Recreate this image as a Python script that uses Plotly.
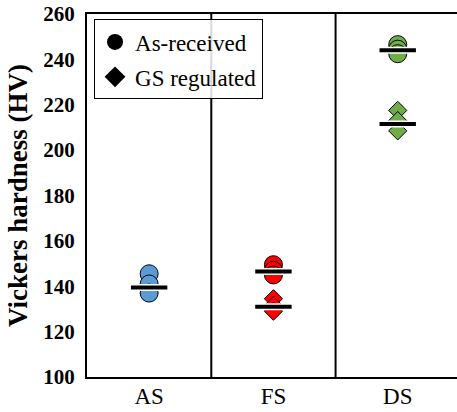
import plotly.graph_objects as go

categories = ["AS", "FS", "DS"]
colors = ["#5B9BD5", "#FF0000", "#70AD47"]

# individual hardness readings (HV)
as_received = {
    "AS": [145.5, 141.0, 137.0],
    "FS": [149.5, 147.0, 145.0],
    "DS": [246.5, 244.5, 242.5],
}
gs_regulated = {
    "AS": [],
    "FS": [134.5, 131.5, 129.0],
    "DS": [217.5, 213.0, 208.5],
}
# mean values shown as black bars
mean_as_received = [139.5, 146.5, 244.0]
mean_gs_regulated = [None, 131.0, 211.5]

y_ticks = [100, 120, 140, 160, 180, 200, 220, 240, 260]

FONT = "Liberation Serif, Times New Roman, serif"

fig = go.Figure()

for i, cat in enumerate(categories):
    vals = as_received[cat]
    if vals:
        fig.add_trace(go.Scatter(
            x=[i] * len(vals), y=vals, mode="markers", showlegend=False,
            marker=dict(symbol="circle", size=18, color=colors[i],
                        line=dict(color="black", width=1)),
        ))
    vals = gs_regulated[cat]
    if vals:
        fig.add_trace(go.Scatter(
            x=[i] * len(vals), y=vals, mode="markers", showlegend=False,
            marker=dict(symbol="diamond", size=14, color=colors[i],
                        line=dict(color="black", width=1)),
        ))

# mean bars (white halo + black bar)
for means in (mean_as_received, mean_gs_regulated):
    xs = [i for i, m in enumerate(means) if m is not None]
    ys = [m for m in means if m is not None]
    fig.add_trace(go.Scatter(
        x=xs, y=ys, mode="markers", showlegend=False, hoverinfo="skip",
        marker=dict(symbol="line-ew", size=27, color="white",
                    line=dict(color="white", width=7)),
    ))
    fig.add_trace(go.Scatter(
        x=xs, y=ys, mode="markers", showlegend=False,
        marker=dict(symbol="line-ew", size=26, color="black",
                    line=dict(color="black", width=4)),
    ))

# legend entries
fig.add_trace(go.Scatter(
    x=[None], y=[None], mode="markers", name="As-received", legendgroup="a",
    marker=dict(symbol="circle", size=18, color="black"),
))
fig.add_trace(go.Scatter(
    x=[None], y=[None], mode="markers", name="GS regulated", legendgroup="b",
    marker=dict(symbol="diamond", size=16, color="black"),
))

# category dividers
for xv in (0.5, 1.5):
    fig.add_shape(type="line", xref="x", yref="paper", x0=xv, x1=xv, y0=0, y1=1,
                  line=dict(color="black", width=2), layer="below")

fig.update_layout(
    width=457, height=412,
    margin=dict(l=87, r=0, t=14, b=35),
    plot_bgcolor="white", paper_bgcolor="white",
    font=dict(family=FONT, color="black"),
    legend=dict(
        x=0.019, y=0.985, xanchor="left", yanchor="top",
        bgcolor="rgba(255,255,255,0.85)", bordercolor="black", borderwidth=1,
        font=dict(size=23, family=FONT, color="black"),
        traceorder="grouped", tracegroupgap=2,
    ),
    xaxis=dict(
        range=[-0.5, 2.477], tickvals=[0, 1, 2], ticktext=categories,
        showline=True, linecolor="black", linewidth=2, mirror=True,
        showgrid=False, zeroline=False, ticks="", ticklabelstandoff=-3,
        tickfont=dict(size=23, family=FONT, color="black"),
    ),
    yaxis=dict(
        range=[100, 260], tickvals=y_ticks,
        ticktext=[f"<b>{v}</b>" for v in y_ticks],
        showline=True, linecolor="black", linewidth=2, mirror=False,
        showgrid=False, zeroline=False, ticks="", ticklabelstandoff=6,
        tickfont=dict(size=21, family=FONT, color="black"),
        title=dict(text="<b>Vickers hardness (HV)</b>", standoff=8,
                   font=dict(size=27, family=FONT, color="black")),
    ),
)

fig.write_html("out.html")
